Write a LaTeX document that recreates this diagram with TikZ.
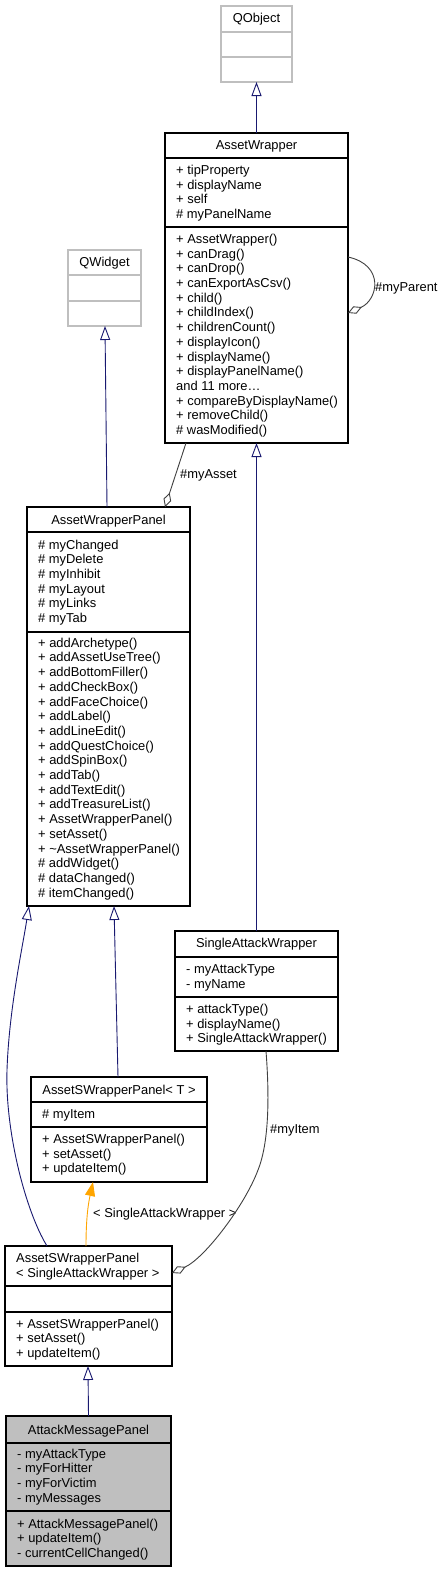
\documentclass[tikz,border=0pt]{standalone}
\usepackage{fontspec}
\setmainfont{Liberation Sans}
\usetikzlibrary{arrows.meta}
\definecolor{edgeblue}{HTML}{191970}
\definecolor{boxgray}{HTML}{BFBFBF}
\definecolor{agggray}{HTML}{404040}
\definecolor{tmplorange}{HTML}{FFA500}
\begin{document}
\begin{tikzpicture}[x=1pt,y=-1pt,
  every node/.style={font=\fontsize{12.9}{14.7}\selectfont},
  umlbox/.style={draw=black,line width=1.1pt,anchor=north west,inner sep=0pt,outer sep=0pt},
  extbox/.style={draw=boxgray,line width=1.1pt,anchor=north west,inner sep=0pt,outer sep=0pt},
  divider/.style={draw=black,line width=1.1pt},
  extdivider/.style={draw=boxgray,line width=1.1pt},
  row/.style={anchor=base west,inner sep=0pt},
  title/.style={anchor=base,inner sep=0pt},
  lbl/.style={anchor=base west,inner sep=0pt},
  inh/.style={draw=edgeblue,line width=0.9pt,-{Triangle[open,length=14pt,width=10pt]}},
  tmpl/.style={draw=tmplorange,line width=0.9pt,-{Triangle[length=14pt,width=10pt,fill=tmplorange]}},
  agg/.style={draw=agggray,line width=0.9pt,-{Diamond[open,length=15pt,width=8pt]}}]
\fill[white] (0,0) rectangle (443,1572);
\useasboundingbox (0,0) rectangle (443,1572);

% QObject
\node[extbox,minimum width=71pt,minimum height=76pt] (qo) at (221,6) {};
\draw[extdivider] (221,32) -- (292,32);
\draw[extdivider] (221,57) -- (292,57);
\node[title] (qot) at (256.5,22) {QObject};

% AssetWrapper
\node[umlbox,minimum width=183pt,minimum height=310pt] (aw) at (165,133) {};
\draw[divider] (165,158) -- (348,158);
\draw[divider] (165,227) -- (348,227);
\node[title] (awt) at (256.5,149.5) {AssetWrapper};
\foreach \t [count=\i from 0] in {{+ tipProperty},{+ displayName},{+ self},{\# myPanelName}}
  \node[row] (awa\i) at (176,174.5+14.6*\i) {\t};
\foreach \t [count=\i from 0] in {{+ AssetWrapper()},{+ canDrag()},{+ canDrop()},{+ canExportAsCsv()},{+ child()},{+ childIndex()},{+ childrenCount()},{+ displayIcon()},{+ displayName()},{+ displayPanelName()},{and 11 more\ldots},{+ compareByDisplayName()},{+ removeChild()},{\# wasModified()}}
  \node[row] (awm\i) at (176,243.5+14.69*\i) {\t};

% QWidget
\node[extbox,minimum width=73pt,minimum height=76pt] (qw) at (68,250) {};
\draw[extdivider] (68,275) -- (141,275);
\draw[extdivider] (68,301) -- (141,301);
\node[title] (qwt) at (104.5,266.5) {QWidget};

% AssetWrapperPanel
\node[umlbox,minimum width=163pt,minimum height=399pt] (awp) at (27,507) {};
\draw[divider] (27,532) -- (190,532);
\draw[divider] (27,632) -- (190,632);
\node[title] (awpt) at (108.5,524) {AssetWrapperPanel};
\foreach \t [count=\i from 0] in {{\# myChanged},{\# myDelete},{\# myInhibit},{\# myLayout},{\# myLinks},{\# myTab}}
  \node[row] (awpa\i) at (38,549+14.68*\i) {\t};
\foreach \t [count=\i from 0] in {{+ addArchetype()},{+ addAssetUseTree()},{+ addBottomFiller()},{+ addCheckBox()},{+ addFaceChoice()},{+ addLabel()},{+ addLineEdit()},{+ addQuestChoice()},{+ addSpinBox()},{+ addTab()},{+ addTextEdit()},{+ addTreasureList()},{+ AssetWrapperPanel()},{+ setAsset()},{+ \textasciitilde{}AssetWrapperPanel()},{\# addWidget()},{\# dataChanged()},{\# itemChanged()}}
  \node[row] (awpm\i) at (38,647.2+14.7*\i) {\t};

% SingleAttackWrapper
\node[umlbox,minimum width=163pt,minimum height=120pt] (saw) at (175,931) {};
\draw[divider] (175,957) -- (338,957);
\draw[divider] (175,997) -- (338,997);
\node[title] (sawt) at (256.5,947.5) {SingleAttackWrapper};
\foreach \t [count=\i from 0] in {{- myAttackType},{- myName}}
  \node[row] (sawa\i) at (186,973.5+14.6*\i) {\t};
\foreach \t [count=\i from 0] in {{+ attackType()},{+ displayName()},{+ SingleAttackWrapper()}}
  \node[row] (sawm\i) at (186,1013.5+14.6*\i) {\t};

% AssetSWrapperPanel< T >
\node[umlbox,minimum width=176pt,minimum height=105pt] (aswpt) at (31,1077) {};
\draw[divider] (31,1102) -- (207,1102);
\draw[divider] (31,1127) -- (207,1127);
\node[title] (aswptt) at (119,1094) {AssetSWrapperPanel< T >};
\node[row] (aswpta0) at (42,1118) {\# myItem};
\foreach \t [count=\i from 0] in {{+ AssetSWrapperPanel()},{+ setAsset()},{+ updateItem()}}
  \node[row] (aswptm\i) at (42,1143.5+14.7*\i) {\t};

% AssetSWrapperPanel< SingleAttackWrapper >
\node[umlbox,minimum width=167pt,minimum height=120pt] (aswps) at (5,1246) {};
\draw[divider] (5,1286) -- (172,1286);
\draw[divider] (5,1312) -- (172,1312);
\node[row] (aswpst1) at (16,1262.6) {AssetSWrapperPanel};
\node[row] (aswpst2) at (16,1277.3) {< SingleAttackWrapper >};
\foreach \t [count=\i from 0] in {{+ AssetSWrapperPanel()},{+ setAsset()},{+ updateItem()}}
  \node[row] (aswpsm\i) at (16,1328+14.7*\i) {\t};

% AttackMessagePanel
\node[umlbox,fill=boxgray,minimum width=165pt,minimum height=150pt] (amp) at (6,1416) {};
\draw[divider] (6,1443) -- (171,1443);
\draw[divider] (6,1511) -- (171,1511);
\node[title] (ampt) at (88.5,1434) {AttackMessagePanel};
\foreach \t [count=\i from 0] in {{- myAttackType},{- myForHitter},{- myForVictim},{- myMessages}}
  \node[row] (ampa\i) at (17,1458+14.7*\i) {\t};
\foreach \t [count=\i from 0] in {{+ AttackMessagePanel()},{+ updateItem()},{- currentCellChanged()}}
  \node[row] (ampm\i) at (17,1528+14.7*\i) {\t};

% edge labels
\node[lbl] (lmyparent) at (375,291.5) {\#myParent};
\node[lbl] (lmyasset) at (180,478) {\#myAsset};
\node[lbl] (lmyitem) at (270,1133.5) {\#myItem};
\node[lbl] (ltmpl) at (93,1217.5) {< SingleAttackWrapper >};

% inheritance edges
\draw[inh] (aw.north) -- (qo.south);
\draw[inh] ([xshift=80pt]awp.north west) -- ([xshift=37pt]qw.south west);
\draw[inh] (saw.north) -- (aw.south);
\draw[inh] ([xshift=87pt]aswpt.north west) -- ([xshift=87pt]awp.south west);
\draw[inh] ([xshift=42pt]aswps.north west) .. controls (25,1210) and (5,1130) .. (7,1070) .. controls (9,1010) and (22,950) .. ([xshift=2pt]awp.south west);
\draw[inh] (amp.north) -- ([xshift=83pt]aswps.south west);

% template instantiation
\draw[tmpl] ([xshift=81pt]aswps.north west) .. controls (86,1220) and (88,1205) .. ([xshift=62pt]aswpt.south west);

% aggregation edges
\draw[agg] ([xshift=21pt]aw.south west) -- ([xshift=138pt]awp.north west);
\draw[agg] ([yshift=-124pt]aw.north east) .. controls (385,265) and (378,300) .. ([yshift=-180pt]aw.north east);
\draw[agg] ([xshift=91pt]saw.south west) .. controls (269,1090) and (270,1140) .. (258,1170) .. controls (245,1205) and (205,1258) .. ([yshift=-27pt]aswps.north east);
\end{tikzpicture}
\end{document}
